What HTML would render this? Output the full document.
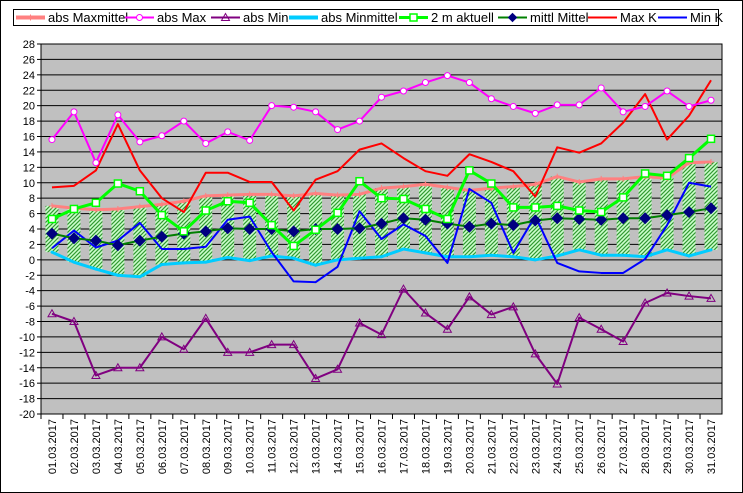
<!DOCTYPE html>
<html><head><meta charset="utf-8"><style>
html,body{margin:0;padding:0;background:#fff}
svg{display:block;font-family:"Liberation Sans",Arial,sans-serif}
</style></head><body>
<svg id="chart" width="743" height="493" viewBox="0 0 743 493" xmlns="http://www.w3.org/2000/svg">
<defs>
<pattern id="hatch" width="4" height="4" patternUnits="userSpaceOnUse">
<rect width="4" height="4" fill="#ccffcc"/>
<path d="M-1,1 l2,-2 M0,4 l4,-4 M3,5 l2,-2" stroke="#339933" stroke-width="1.2"/>
</pattern>
</defs>
<rect x="0.5" y="0.5" width="742" height="492" fill="#fff" stroke="#000"/>
<rect x="41" y="44" width="681" height="370" fill="#c0c0c0" stroke="#000"/>
<g id="grid"></g><g id="bars"></g><g id="series"></g><g id="axes"></g>
<g id="legend">
<rect x="13.5" y="9.5" width="705" height="16" fill="#fff" stroke="#000"/>
</g>
</svg>
<script>
const categories=["01.03.2017","02.03.2017","03.03.2017","04.03.2017","05.03.2017","06.03.2017","07.03.2017","08.03.2017","09.03.2017","10.03.2017","11.03.2017","12.03.2017","13.03.2017","14.03.2017","15.03.2017","16.03.2017","17.03.2017","18.03.2017","19.03.2017","20.03.2017","21.03.2017","22.03.2017","23.03.2017","24.03.2017","25.03.2017","26.03.2017","27.03.2017","28.03.2017","29.03.2017","30.03.2017","31.03.2017"];
const yTicks=[28,26,24,22,20,18,16,14,12,10,8,6,4,2,0,-2,-4,-6,-8,-10,-12,-14,-16,-18,-20];
const absMaxmittel=[7.0,6.7,6.5,6.6,6.9,7.2,7.6,8.3,8.4,8.5,8.5,8.3,8.6,8.4,8.5,9.3,9.5,9.8,9.4,9.0,9.3,9.5,9.8,10.8,10.1,10.5,10.5,10.8,10.6,12.6,12.7];
const absMax=[15.6,19.2,12.6,18.8,15.3,16.1,18.0,15.1,16.6,15.5,20.0,19.8,19.2,16.9,18.0,21.1,21.9,23.0,23.9,23.0,20.9,19.9,19.0,20.1,20.1,22.3,19.2,19.9,21.9,19.9,20.7];
const absMin=[-7,-8,-15,-14,-14,-10,-11.6,-7.6,-12,-12,-11,-11,-15.4,-14.2,-8.2,-9.7,-3.8,-6.9,-9.0,-4.8,-7.1,-6.1,-12.2,-16.1,-7.5,-9.0,-10.6,-5.6,-4.3,-4.7,-5.0];
const absMinmittel=[1.0,-0.3,-1.2,-2.0,-2.2,-0.6,-0.4,-0.3,0.3,-0.1,0.5,0.2,-0.7,0.0,0.2,0.4,1.4,0.9,0.4,0.4,0.6,0.4,0.0,0.5,1.3,0.6,0.6,0.4,1.3,0.5,1.3];
const aktuell2m=[5.3,6.6,7.4,9.9,8.9,5.8,3.7,6.4,7.6,7.4,4.5,1.8,3.9,6.1,10.2,8.0,7.9,6.6,5.3,11.6,9.9,6.8,6.8,7.0,6.4,6.2,8.1,11.2,10.9,13.2,15.7];
const mittlMittel=[3.4,2.8,2.5,1.9,2.5,3.0,3.4,3.7,4.1,4.0,4.0,3.7,4.0,4.0,4.1,4.7,5.4,5.2,4.7,4.3,4.7,4.5,5.1,5.4,5.3,5.2,5.4,5.4,5.8,6.2,6.7];
const maxK=[9.4,9.6,11.6,17.6,11.6,8.0,6.2,11.3,11.3,10.1,10.1,6.4,10.4,11.5,14.3,15.1,13.2,11.5,10.9,13.7,12.7,11.5,8.2,14.6,13.9,15.1,17.8,21.5,15.6,18.7,23.3];
const minK=[1.5,3.8,1.6,2.5,4.8,1.4,1.4,1.7,5.2,5.6,1.0,-2.8,-2.9,-0.9,6.3,2.7,4.6,3.1,-0.4,9.2,7.4,0.9,5.7,-0.4,-1.5,-1.7,-1.7,0.1,4.5,10.0,9.5];

const NS="http://www.w3.org/2000/svg";
const PL=41,PR=722,PT=44,PB=414,YMIN=-20,YMAX=28;
const band=(PR-PL)/categories.length;
const x=i=>PL+band*(i+0.5);
const y=v=>PT+(YMAX-v)/(YMAX-YMIN)*(PB-PT);
function mk(tag,attrs,parent){const e=document.createElementNS(NS,tag);for(const k in attrs)e.setAttribute(k,attrs[k]);parent.appendChild(e);return e;}
const G=id=>document.getElementById(id);

yTicks.forEach(t=>{
  const l=mk('line',{x1:PL,x2:PR,y1:y(t),y2:y(t),stroke:'#000','stroke-width':1},G('grid'));
  
  
  const tk=mk('line',{x1:PL-4,x2:PL,y1:y(t),y2:y(t),stroke:'#000'},G('axes'));
  
  
  const tx=mk('text',{x:PL-6,y:y(t)+4,'text-anchor':'end','font-size':11},G('axes'));
  
  
  tx.textContent=t;
});
categories.forEach((c,i)=>{
  const tk=mk('line',{x1:PL+band*i,x2:PL+band*i,y1:PB,y2:PB+5,stroke:'#000'},G('axes'));
  
  
  const tx=mk('text',{x:0,y:0,'text-anchor':'end','font-size':11,transform:`translate(${x(i)+4},419) rotate(-90)`},G('axes'));
  
  
  tx.textContent=c;
  const top=Math.max(absMaxmittel[i],absMinmittel[i]),bot=Math.min(absMaxmittel[i],absMinmittel[i]);
  const b=mk('rect',{x:x(i)-6.5,y:y(top),width:13,height:y(bot)-y(top),fill:'url(#hatch)'},G('bars'));
  
  
});
mk('line',{x1:PL,x2:PL,y1:PT,y2:PB,stroke:'#000'},G('axes'));
mk('line',{x1:PL,x2:PR,y1:PB,y2:PB,stroke:'#000'},G('axes'));

function marker(type,cx,cy,col,g){
  let m;
  if(type==='circle')m=mk('circle',{cx,cy,r:3,fill:'#fff',stroke:col,'stroke-width':1},g);
  else if(type==='square')m=mk('rect',{x:cx-3.5,y:cy-3.5,width:7,height:7,fill:'#fff',stroke:col,'stroke-width':1.5},g);
  else if(type==='diamond')m=mk('path',{d:`M${cx},${cy-6}L${cx+6},${cy}L${cx},${cy+6}L${cx-6},${cy}Z`,fill:'#000080'},g);
  else if(type==='tri')m=mk('path',{d:`M${cx},${cy-4}L${cx+4},${cy+3}L${cx-4},${cy+3}Z`,fill:'none',stroke:col},g);
  else if(type==='plus')m=mk('path',{d:`M${cx-3},${cy}h6M${cx},${cy-3}v6`,stroke:col},g);
  else if(type==='dot')m=mk('circle',{cx,cy,r:1.5,fill:col},g);
  return m;
}
function series(name,data,col,w,mtype){
  const g=mk('g',{},G('series'));
  
  
  mk('polyline',{points:data.map((v,i)=>x(i)+','+y(v)).join(' '),fill:'none',stroke:col,'stroke-width':w,'stroke-linejoin':'round'},g);
  if(mtype)data.forEach((v,i)=>{const m=marker(mtype,x(i),y(v),col,g);});
}
series('series-abs-maxmittel',absMaxmittel,'#ff8080',3,'plus');
series('series-abs-minmittel',absMinmittel,'#00ccff',3,'dot');
series('series-max-k',maxK,'#ff0000',2,null);
series('series-min-k',minK,'#0000ff',2,null);
series('series-mittl-mittel',mittlMittel,'#008000',2,'diamond');
series('series-2m-aktuell',aktuell2m,'#00ff00',3,'square');
series('series-abs-max',absMax,'#ff00ff',2,'circle');
series('series-abs-min',absMin,'#800080',2,'tri');

const legendItems=[["abs Maxmittel",16,'#ff8080',4,'plus'],["abs Max",125,'#ff00ff',2,'circle'],["abs Min",211,'#800080',2,'tri'],["abs Minmittel",289,'#00ccff',4,'dot'],["2 m aktuell",399,'#00ff00',3,'square'],["mittl Mittel",498,'#008000',2,'diamond'],["Max K",588,'#ff0000',2,null],["Min K",658,'#0000ff',2,null]];
legendItems.forEach(([t,lx,col,w,m])=>{
  const g=mk('g',{},G('legend'));
  
  
  mk('line',{x1:lx,x2:lx+29,y1:17.5,y2:17.5,stroke:col,'stroke-width':w},g);
  if(m){const mm=marker(m,lx+14.5,17.5,col,g);if(m==='diamond')mm.setAttribute('transform',`translate(${lx+14.5},17.5) scale(0.8) translate(${-(lx+14.5)},-17.5)`);}
  const tx=mk('text',{x:lx+32,y:22,'font-size':13},g);
  tx.textContent=t;
});
</script>
</body></html>
